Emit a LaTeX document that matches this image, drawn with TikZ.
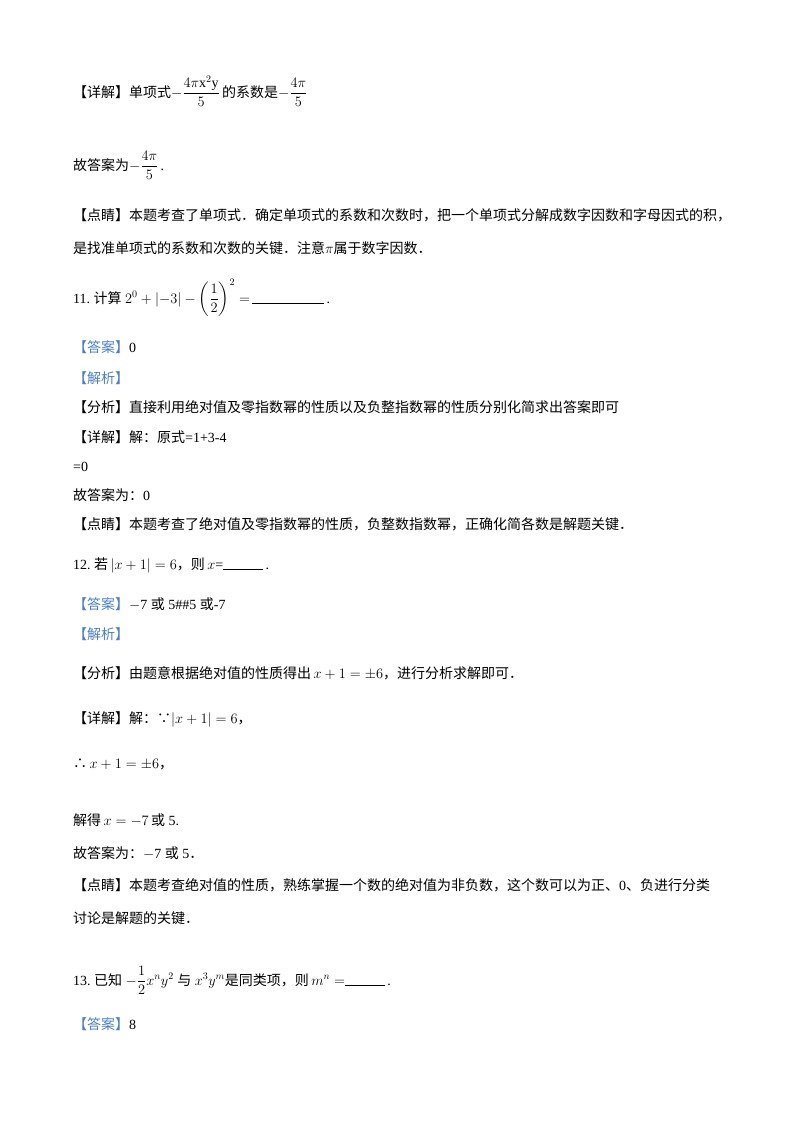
\documentclass[tikz,border=0pt]{standalone}
\usepackage{amsmath}
\usepackage{fontspec}
\setmainfont{Liberation Serif}
\newfontfamily\zh{Noto Sans CJK SC}
\definecolor{hblue}{HTML}{4A7FC0}
\newcommand{\z}[1]{{\zh #1}}
\newcommand{\bz}[1]{{\zh\color{hblue}#1}}
\begin{document}
\begin{tikzpicture}[x=1pt,y=-1pt,
  ln/.style={anchor=base west,inner sep=0pt,font=\fontsize{14}{17}\selectfont}]
\useasboundingbox (0,0) rectangle (800,1132);
\node[ln] (l1) at (73,97) {\z{【详解】单项式}$\displaystyle-\frac{4\pi\mathrm{x}^{2}\mathrm{y}}{5}$\,\z{的系数是}$\displaystyle-\frac{4\pi}{5}$};
\node[ln] (l2) at (73,170) {\z{故答案为}$\displaystyle-\frac{4\pi}{5}$\,.};
\node[ln] (l3) at (73,220) {\z{【点睛】本题考查了单项式．确定单项式的系数和次数时，把一个单项式分解成数字因数和字母因式的积，}};
\node[ln] (l4) at (73,253) {\z{是找准单项式的系数和次数的关键．注意}$\pi$\z{属于数字因数．}};
\node[ln] (l5) at (73,303) {11.~\z{计算}~$2^{0}+|{-3}|-\left(\dfrac{1}{2}\right)^{2}=$\,\rule{72pt}{0.5pt}\,.};
\node[ln] (l6) at (73,352) {\bz{【答案】}0};
\node[ln] (l7) at (73,383) {\bz{【解析】}};
\node[ln] (l8) at (73,412) {\z{【分析】直接利用绝对值及零指数幂的性质以及负整指数幂的性质分别化简求出答案即可}};
\node[ln] (l9) at (73,442) {\z{【详解】解：原式}=1+3-4};
\node[ln] (l10) at (73,471) {=0};
\node[ln] (l11) at (73,500) {\z{故答案为：}0};
\node[ln] (l12) at (73,529) {\z{【点睛】本题考查了绝对值及零指数幂的性质，负整数指数幂，正确化简各数是解题关键．}};
\node[ln] (l13) at (73,569) {12.~\z{若}\,$|x+1|=6$\z{，则}\,$x$=\rule{40pt}{0.5pt}\,.};
\node[ln] (l14) at (73,609) {\bz{【答案】}$-$7 \z{或} 5\#\#5 \z{或}-7};
\node[ln] (l15) at (73,639) {\bz{【解析】}};
\node[ln] (l16) at (73,678) {\z{【分析】由题意根据绝对值的性质得出}\,$x+1=\pm6$\z{，进行分析求解即可．}};
\node[ln] (l17) at (73,723) {\z{【详解】解：∵}$|x+1|=6$\z{，}};
\node[ln] (l18) at (73,768) {\z{∴}\,$x+1=\pm6$\z{，}};
\node[ln] (l19) at (73,825) {\z{解得}\,$x=-7$\,\z{或} 5.};
\node[ln] (l20) at (73,858) {\z{故答案为：}$-$7 \z{或} 5\z{．}};
\node[ln] (l21) at (73,890) {\z{【点睛】本题考查绝对值的性质，熟练掌握一个数的绝对值为非负数，这个数可以为正、}0\z{、负进行分类}};
\node[ln] (l22) at (73,923) {\z{讨论是解题的关键．}};
\node[ln] (l23) at (73,985) {13.~\z{已知}~$\displaystyle-\frac{1}{2}x^{n}y^{2}$~\z{与}~$x^{3}y^{m}$\z{是同类项，则}\,$m^{n}=$\rule{40pt}{0.5pt}\,.};
\node[ln] (l24) at (73,1029) {\bz{【答案】}8};
\end{tikzpicture}
\end{document}
